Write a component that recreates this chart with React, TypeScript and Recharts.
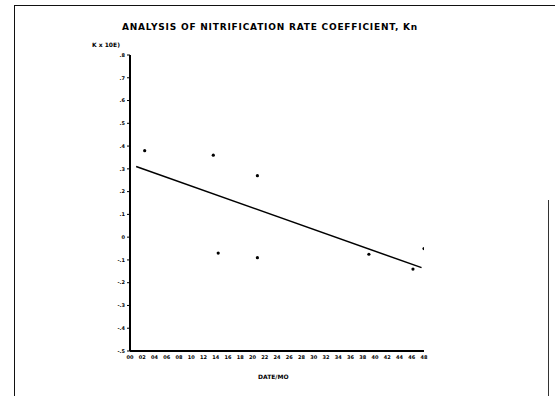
import React from "react";
import {
  ComposedChart,
  Scatter,
  Line,
  XAxis,
  YAxis,
} from "recharts";

// observed Kn values (x = sample index, y = Kn x 10E)
const obsX = [1.2, 6.8, 10.4, 7.2, 10.4, 19.5, 23.1, 24.0];
const obsY = [0.38, 0.36, 0.27, -0.07, -0.09, -0.075, -0.14, -0.05];

// fitted regression line end points
const fitX = [0.5, 23.8];
const fitY = [0.31, -0.134];

const yTicks = [0.8, 0.7, 0.6, 0.5, 0.4, 0.3, 0.2, 0.1, 0, -0.1, -0.2, -0.3, -0.4, -0.5];
const xTicks = Array.from({ length: 25 }, (_, i) => i);
const xLabels = [
  "00", "02", "04", "06", "08", "10", "12", "14", "16", "18", "20", "22", "24",
  "26", "28", "30", "32", "34", "36", "38", "40", "42", "44", "46", "48",
];

const points = obsX.map((x, i) => ({ x, y: obsY[i] }));
const fit = fitX.map((x, i) => ({ x, y: fitY[i] }));

const fmtY = (v: number) => {
  if (v === 0) return "0";
  const s = Math.abs(v).toFixed(1).replace(/^0/, "");
  return v < 0 ? "-" + s : s;
};

const Dot = (props: any) => (
  <circle cx={props.cx} cy={props.cy} r={1.6} fill="#000" />
);

export default function App() {
  return (
    <div
      style={{
        position: "absolute",
        left: 0,
        top: 0,
        width: 555,
        height: 396,
        background: "#fff",
        fontFamily: "'DejaVu Sans', sans-serif",
        overflow: "hidden",
      }}
    >
      <div
        style={{
          position: "absolute",
          left: 14,
          top: 5,
          width: 560,
          height: 420,
          borderTop: "1.5px solid #111",
          borderLeft: "1.5px solid #111",
        }}
      />
      <div
        style={{
          position: "absolute",
          left: 548,
          top: 200,
          width: 0,
          height: 200,
          borderLeft: "1px solid #333",
        }}
      />
      <div
        style={{
          position: "absolute",
          left: 0,
          top: 22,
          width: 540,
          textAlign: "center",
          fontSize: 9,
          fontWeight: "bold",
          letterSpacing: 0.8,
          color: "#000",
        }}
      >
        ANALYSIS OF NITRIFICATION RATE COEFFICIENT, Kn
      </div>
      <div
        style={{
          position: "absolute",
          left: 92,
          top: 41,
          fontSize: 6,
          fontWeight: "bold",
          color: "#000",
        }}
      >
        K x 10E)
      </div>
      <div
        style={{
          position: "absolute",
          left: 258,
          top: 373,
          fontSize: 6,
          fontWeight: "bold",
          color: "#000",
        }}
      >
        DATE/MO
      </div>
      <ComposedChart
        width={555}
        height={396}
        margin={{ top: 55, right: 131, bottom: 15, left: 0 }}
        style={{ position: "absolute", left: 0, top: 0 }}
      >
        <XAxis
          type="number"
          dataKey="x"
          domain={[0, 24]}
          ticks={xTicks}
          interval={0}
          tickFormatter={(v: number) => xLabels[v] ?? ""}
          tick={{ fontSize: 5, fontWeight: "bold", fill: "#000" }}
          tickSize={2}
          tickLine={false}
          axisLine={{ stroke: "#000", strokeWidth: 2 }}
          height={30}
          allowDataOverflow
        />
        <YAxis
          type="number"
          dataKey="y"
          domain={[-0.5, 0.8]}
          ticks={yTicks}
          interval={0}
          tickFormatter={fmtY}
          tick={{ fontSize: 5, fontWeight: "bold", fill: "#000" }}
          tickSize={3}
          tickLine={{ stroke: "#000" }}
          axisLine={{ stroke: "#000", strokeWidth: 2 }}
          width={130}
          allowDataOverflow
        />
        <Line
          data={fit}
          dataKey="y"
          type="linear"
          stroke="#000"
          strokeWidth={1.5}
          dot={false}
          activeDot={false}
          isAnimationActive={false}
        />
        <Scatter
          data={points}
          dataKey="y"
          fill="#000"
          shape={Dot}
          isAnimationActive={false}
        />
      </ComposedChart>
    </div>
  );
}
